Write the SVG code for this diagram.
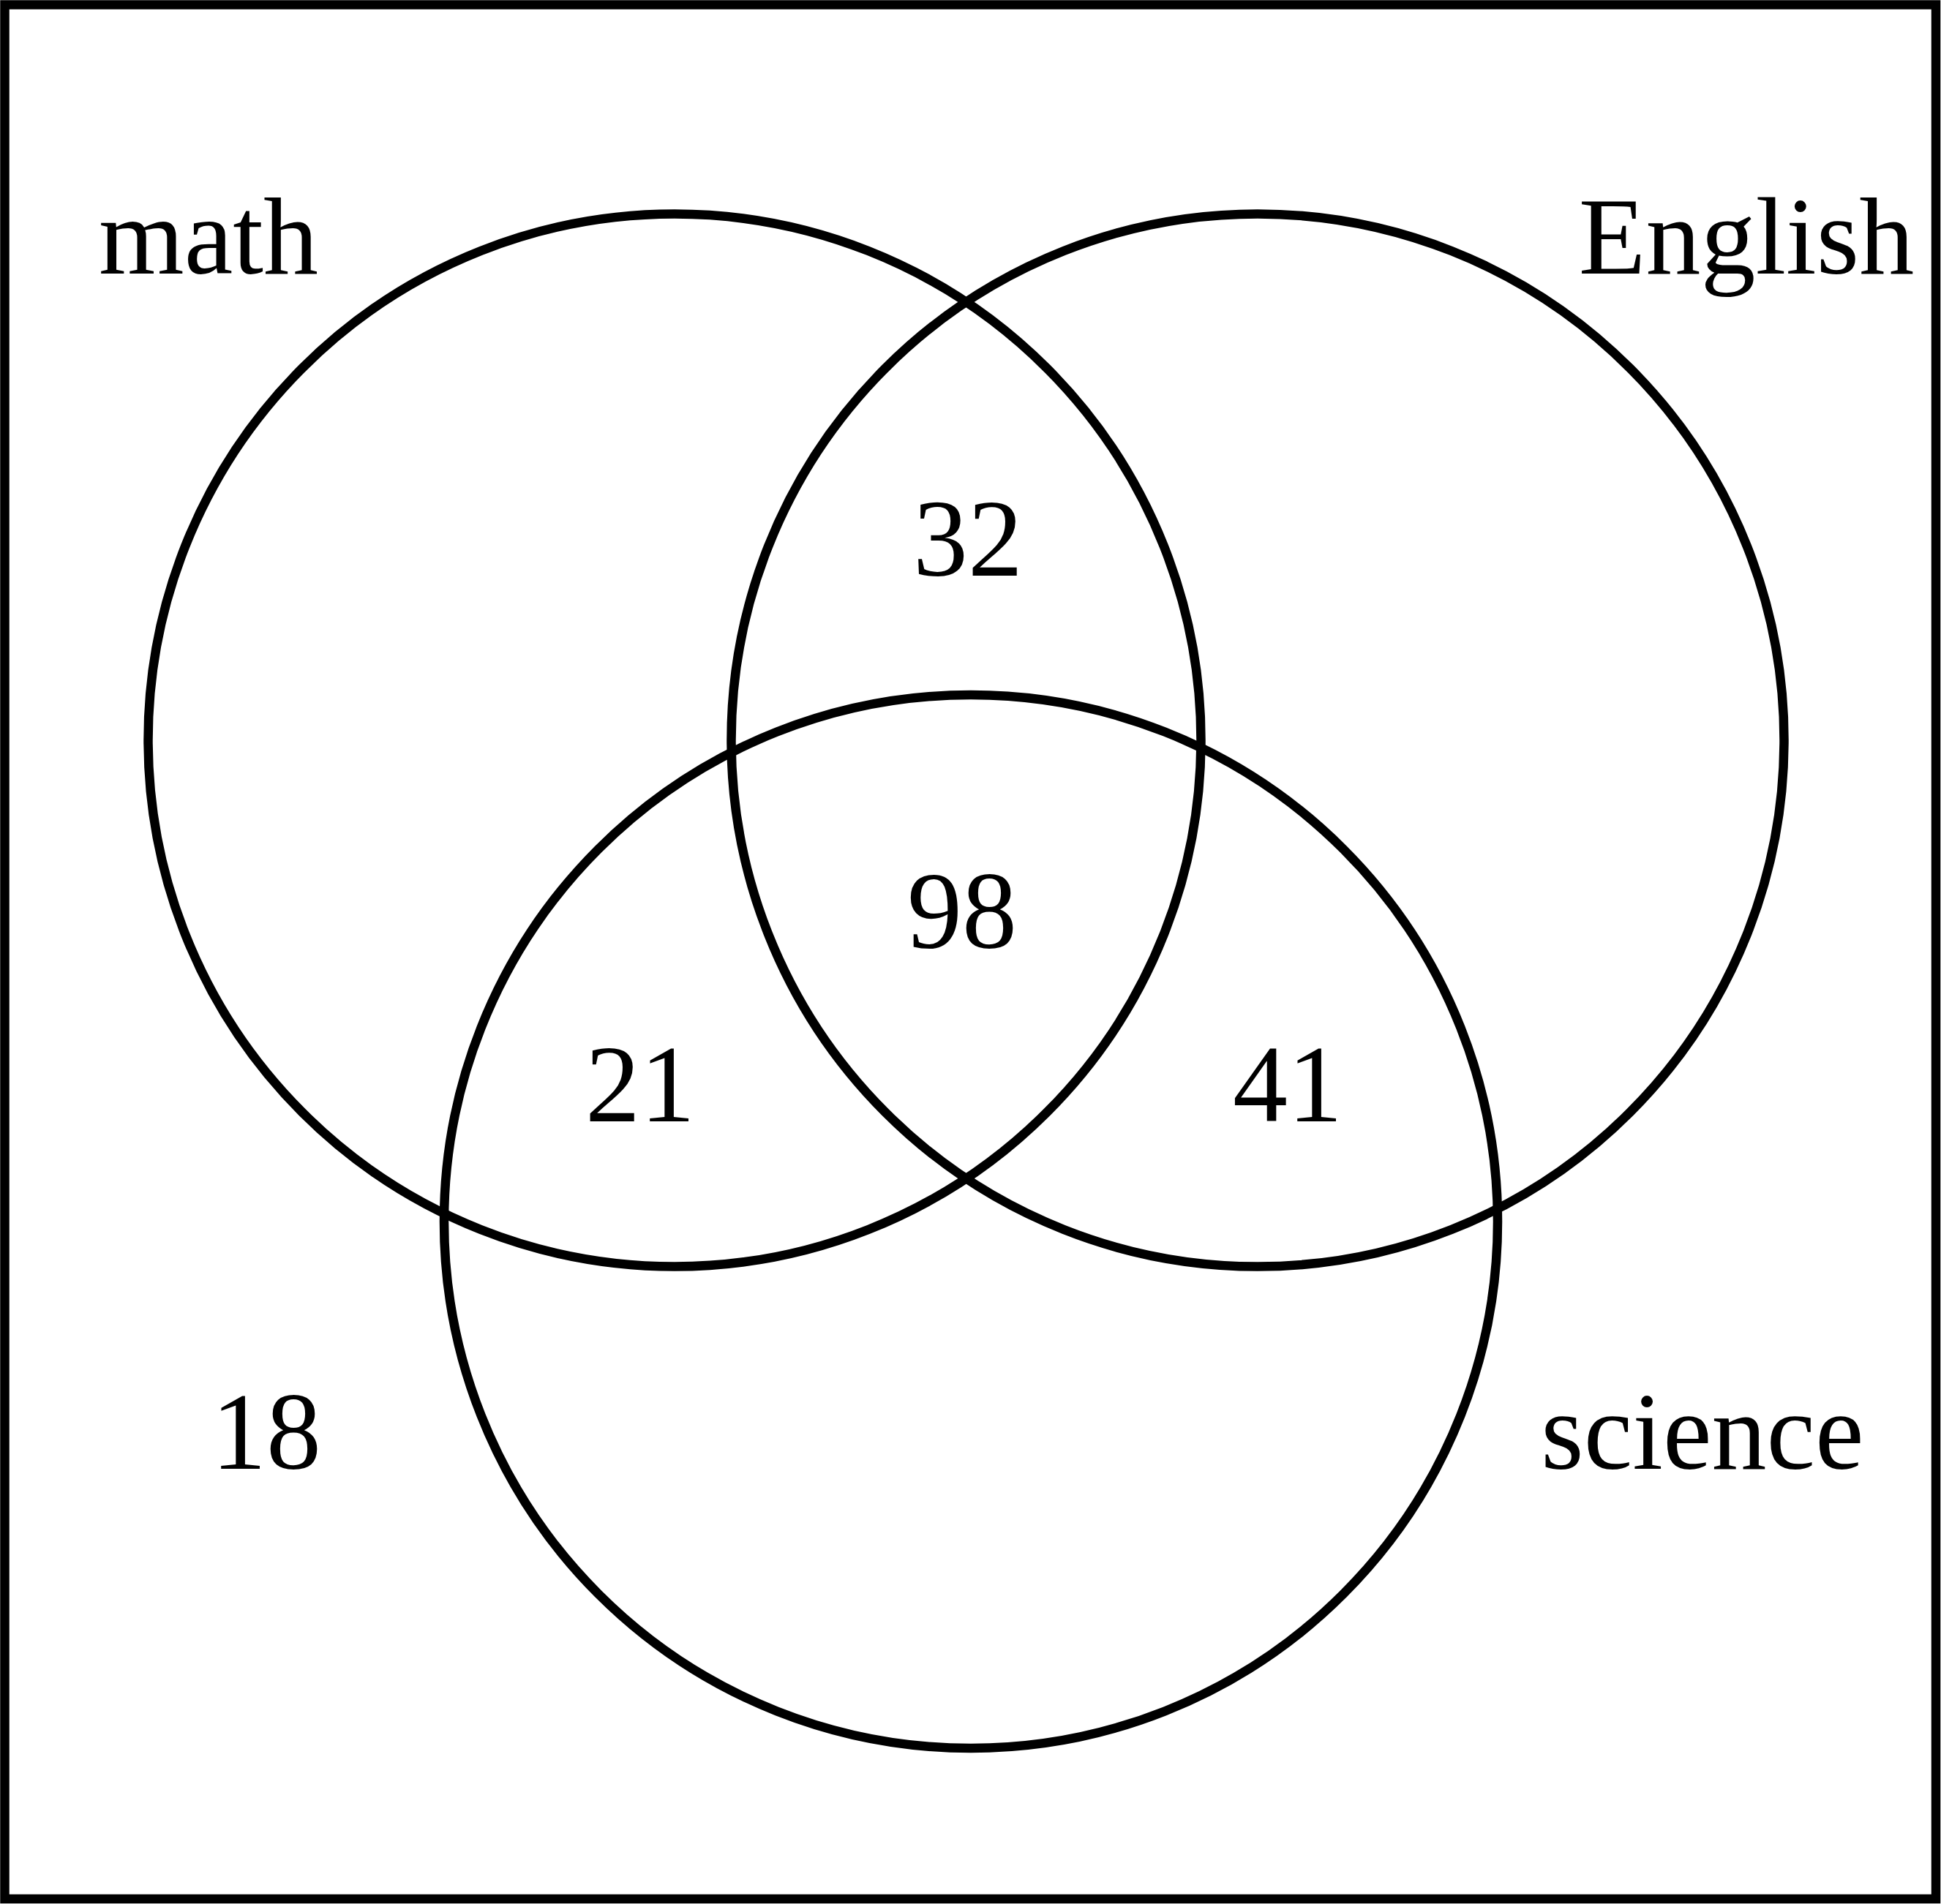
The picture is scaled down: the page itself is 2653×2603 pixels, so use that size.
<svg xmlns="http://www.w3.org/2000/svg" width="2653" height="2603" viewBox="0 0 2653 2603">
<style>
.set{fill:none;stroke:#000;stroke-width:12.5}
.lbl{font-family:"Liberation Serif","Times New Roman",serif;font-size:150px;fill:#000;text-anchor:middle}
</style>
<rect x="0" y="0" width="2653" height="2603" fill="#fff"/>
<rect id="universe" x="6.5" y="6.5" width="2639.5" height="2589.5" fill="none" stroke="#000" stroke-width="12.5"/>
<g id="math"><circle class="set" cx="922" cy="1012" r="719.5"/><text class="lbl" x="285" y="374">math</text></g>
<g id="english"><circle class="set" cx="1719" cy="1012" r="719.5"/><text class="lbl" x="2387" y="374">English</text></g>
<g id="science"><circle class="set" cx="1327" cy="1670" r="720"/><text class="lbl" x="2327" y="2008">science</text></g>
<g id="counts">
<text class="lbl" x="1323" y="787">32</text>
<text class="lbl" x="1315" y="1296">98</text>
<text class="lbl" x="875" y="1533">21</text>
<text class="lbl" x="1760" y="1533">41</text>
<text class="lbl" x="364" y="2008">18</text>
</g>
<g id="connectors"></g>
</svg>
